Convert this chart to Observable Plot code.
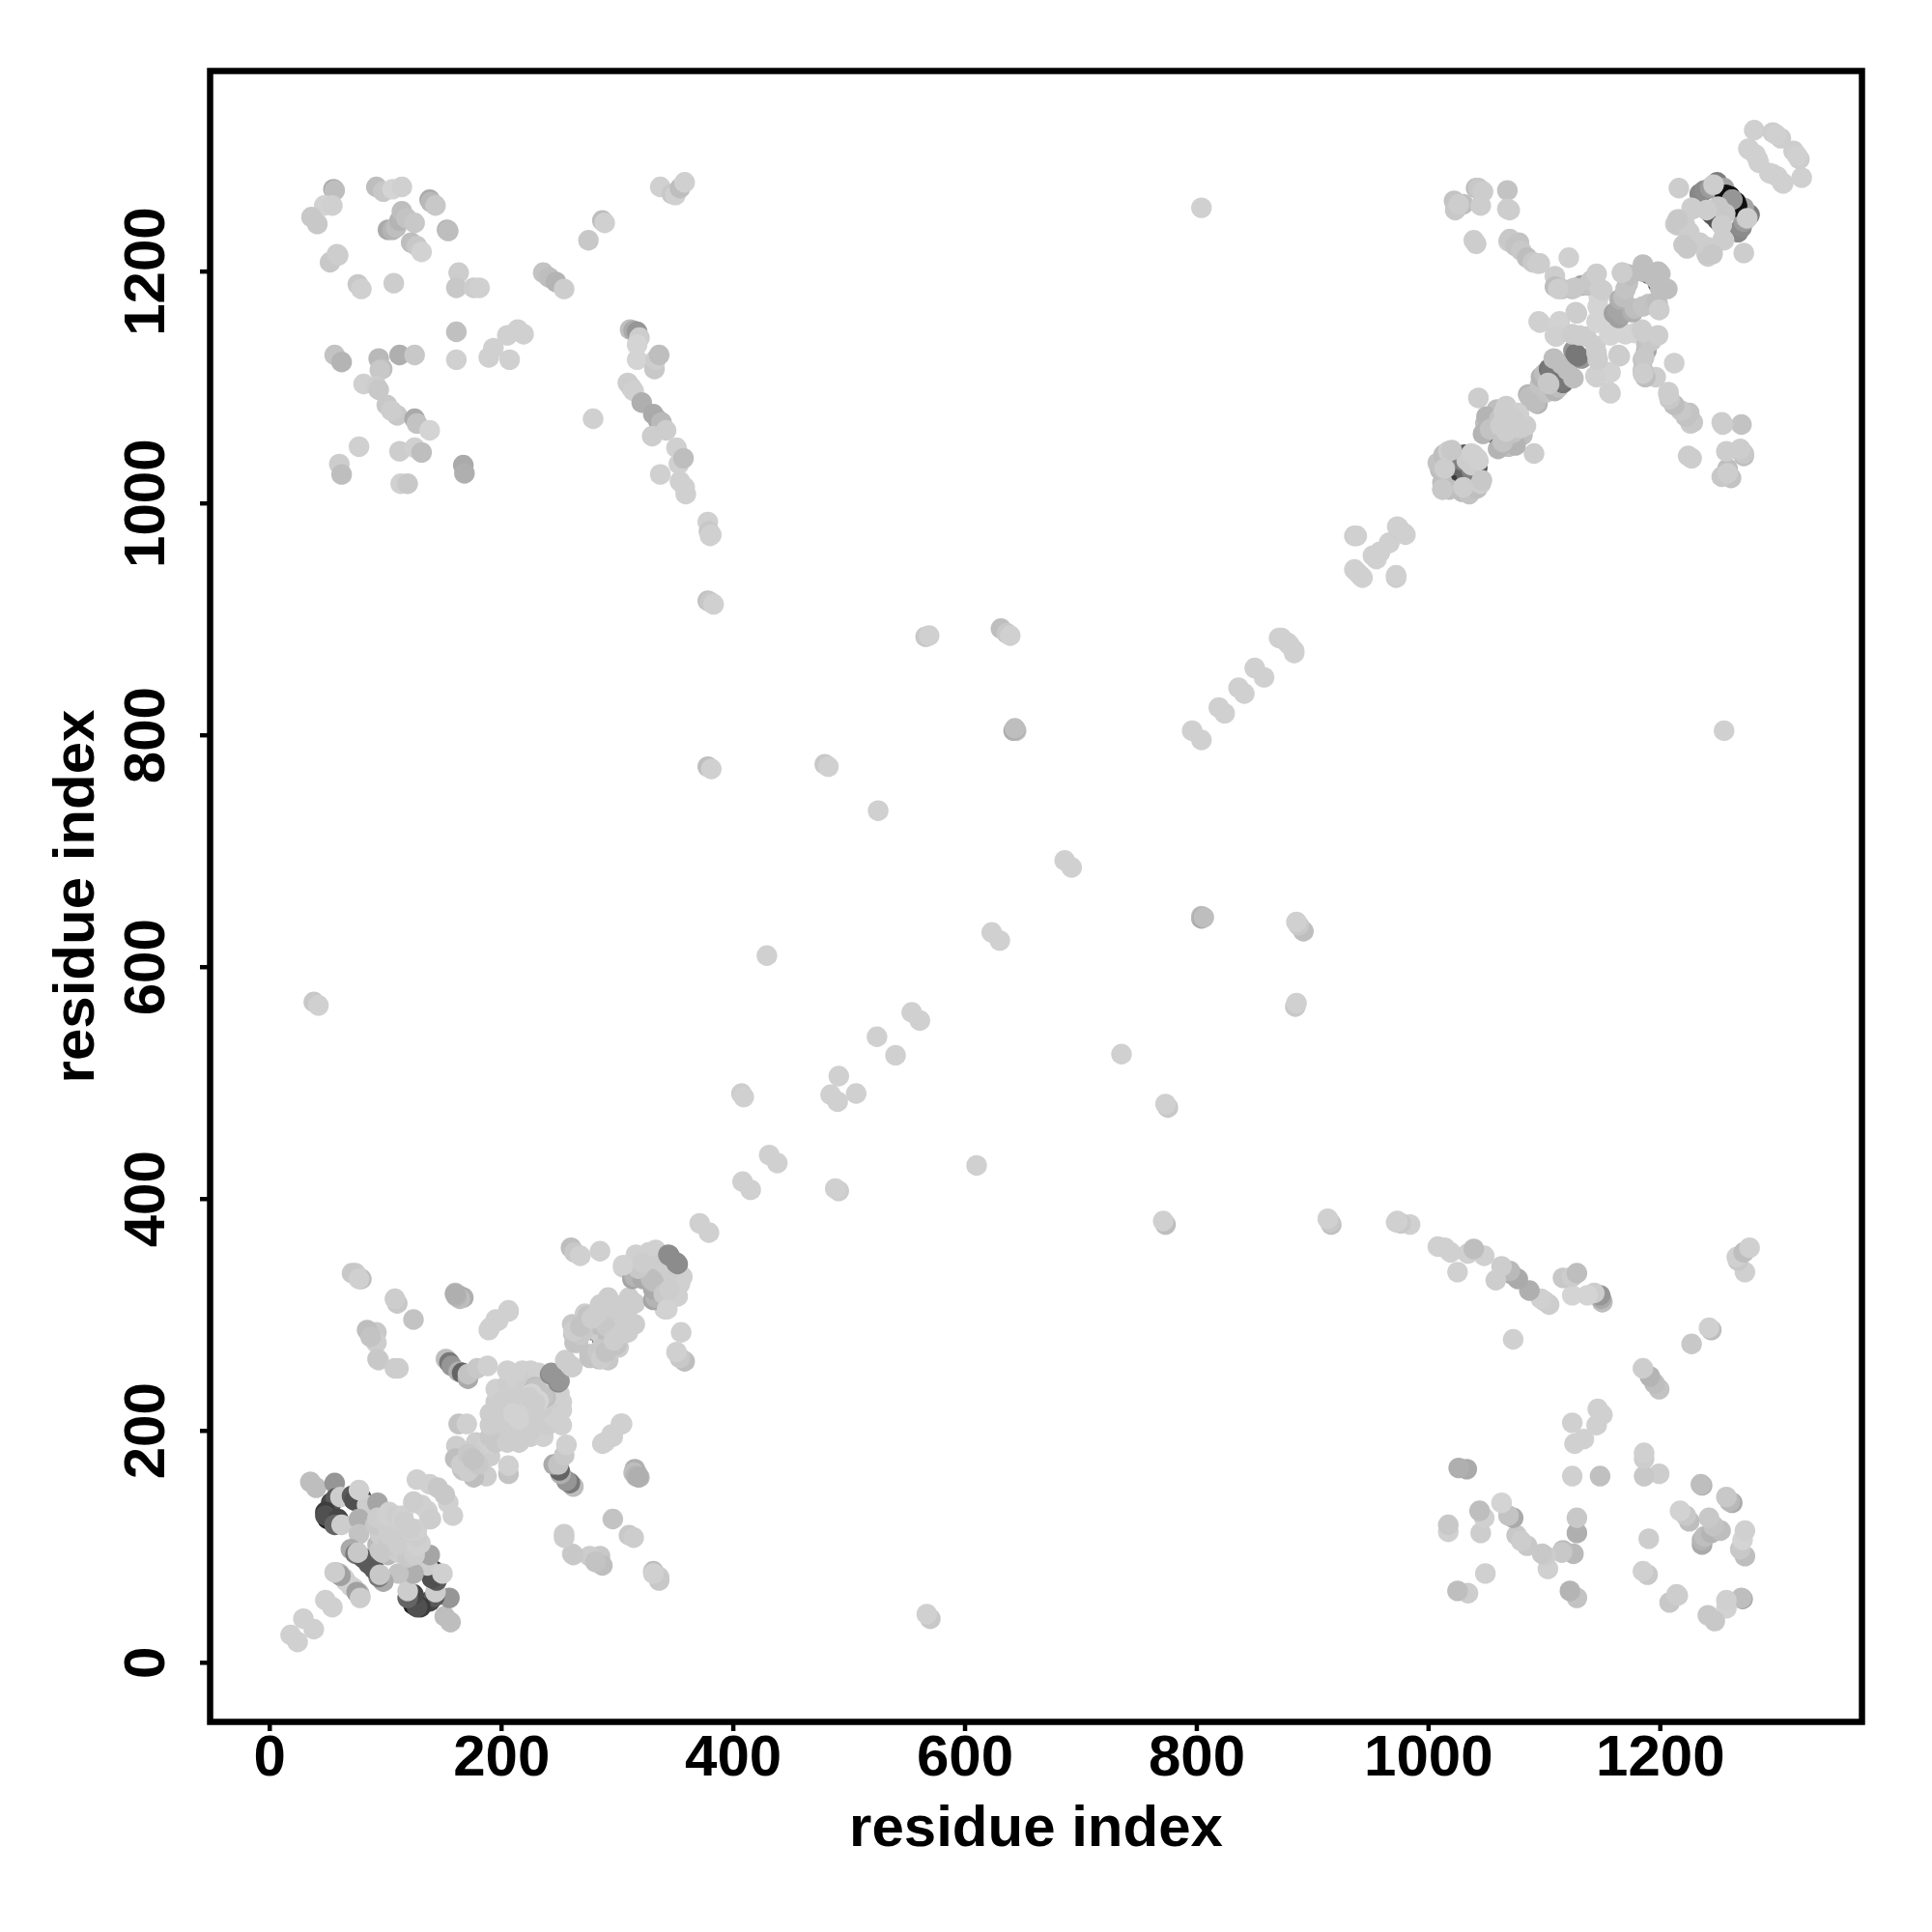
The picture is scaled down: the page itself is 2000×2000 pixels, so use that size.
<!DOCTYPE html>
<html>
<head>
<meta charset="utf-8">
<style>html,body{margin:0;padding:0;background:#fff}</style>
<script src="https://cdn.jsdelivr.net/npm/d3@7"></script>
<script src="https://cdn.jsdelivr.net/npm/@observablehq/plot@0.6"></script>
</head>
<body>
<script>
// contact rows: [residue i, residue j, gray level 0-255]; i <= j, the map is symmetric
const sparseContacts = [
[18,24,208],[29,38,208],[48,54,208],
[371,379,208],[408,415,208],[431,438,208],[407,491,205],[409,488,208],[484,490,208],[491,506,208],
[524,540,208],[554,561,208],[623,630,208],[686,692,208],[796,804,208],[819,824,208],[836,841,208],
[850,858,208],[871,884,208],[878,880,208],[873,884,208],[936,972,205],[938,972,208],[938,941,208],
[936,943,208],[952,955,208],[958,958,208],[966,966,208],[974,979,200],[973,980,208],
[378,916,192],[380,915,200],[383,913,208],[378,984,208],[379,976,200],[381,973,208],[380,972,208],
[566,885,200],[569,886,208],[631,892,190],[636,888,200],[639,886,208],[804,1255,208],[378,773,190],
[381,771,208],[479,775,200],[482,773,208],[525,735,208],[642,804,170],[644,804,190],[38,570,200],[42,567,208],
[429,610,208],[643,805,170],[643,806,190]
];
const upperLeftBlock = [
[55,1271,170],[56,1270,190],[47,1257,210],[54,1257,208],[36,1247,200],[41,1241,200],
[92,1273,190],[98,1269,200],[106,1271,212],[114,1273,208],
[138,1262,170],[139,1260,185],[143,1257,200],
[102,1236,170],[106,1236,180],[109,1238,190],[112,1244,180],[114,1252,190],[118,1246,195],[125,1242,200],
[122,1225,190],[127,1222,200],[131,1217,210],
[153,1236,180],[154,1235,190],[52,1208,200],[58,1215,205],[59,1214,205],
[76,1189,200],[79,1185,208],[107,1190,205],
[163,1199,205],[161,1186,200],[176,1186,205],[181,1186,208],
[236,1199,195],[241,1195,190],[247,1191,180],[254,1185,205],
[161,1148,192],[161,1124,208],[189,1126,208],[193,1134,208],[207,1124,208],[205,1145,208],[214,1150,208],[219,1146,208],
[56,1128,195],[62,1122,180],[94,1125,185],[97,1116,190],[95,1115,200],[81,1103,208],[92,1101,205],[94,1098,200],
[101,1085,200],[110,1076,200],[105,1080,205],[125,1073,170],[127,1069,195],[138,1063,212],
[112,1128,175],[125,1128,200],[279,1073,208],[77,1049,208],
[112,1045,205],[125,1048,208],[131,1044,190],
[60,1034,205],[62,1025,190],[167,1033,170],[168,1026,175],[113,1017,208],[119,1017,200]
];
const upperMiddleBlock = [
[337,1273,208],[347,1267,200],[350,1266,208],[354,1272,190],[358,1277,208],
[287,1244,190],[289,1242,208],[275,1227,200],
[311,1150,190],[314,1149,170],[317,1148,150],[319,1143,205],[317,1137,212],[317,1124,212],
[332,1116,200],[333,1124,205],[336,1128,190],
[309,1104,205],[312,1100,205],[314,1097,208],[321,1087,175],
[331,1077,170],[335,1072,170],[338,1070,185],[342,1063,205],[330,1058,205],
[351,1048,208],[353,1034,208],[357,1039,190],[337,1025,208],[354,1019,208],[358,1014,208],[359,1008,208]
];
const firstDomain = [
[35,156,190],[40,151,190],[56,155,150],
[53,138,70],[57,142,90],[48,130,60],[50,124,30],[48,127,80],[59,124,70],[56,119,100],[62,119,205],[61,143,205],
[71,144,90],[77,141,55],[79,142,60],[73,140,80],[84,136,205],[77,149,208],[93,138,165],[77,124,175],[77,111,195],
[70,98,170],[74,94,120],[81,90,90],[85,86,90],[76,95,200],[57,78,190],[60,77,185],[64,73,208],[66,70,208],[61,75,160],[56,78,205],
[93,102,185],[95,97,200],[95,111,205],[102,106,200],[106,109,205],[96,115,205],[91,119,200],[102,111,205],
[93,125,205],[99,126,208],[103,130,208],[95,124,205],[101,127,208],[109,127,205],[115,127,208],[114,122,208],[122,116,205],
[127,158,208],[138,154,208],[145,151,200],[124,138,208],[131,136,208],[124,139,205]
];
const secondDomain = [
[160,319,190],[163,317,180],[167,315,175],[189,287,208],[197,295,208],[206,304,208],
[152,262,190],[155,259,120],[157,256,150],[163,251,175],[166,250,100],[171,245,170],[171,249,195],[179,254,200],[188,256,208],
[163,206,195],[170,206,208],[161,187,205],[160,176,190],[166,167,195],[171,165,205],[178,190,205],[171,180,200],[189,190,208],[175,176,195],
[212,232,90],[220,226,110],[196,206,170],
[190,195,200],[190,205,205],[190,215,205],[195,225,205],[195,236,208],[200,210,205],[200,225,205],[205,240,205],[205,252,208],
[212,215,205],[212,228,205],[212,245,208],[218,252,208],[220,235,205],[225,252,208],[228,243,205],[232,250,208],
[226,232,205],[235,238,205],[238,228,205],[229,238,190],[236,230,195],[232,226,212],[202,206,205],[210,209,205],[225,225,210],[215,210,210],[224,229,205],
[242,249,135],[243,250,150],
[256,260,208],[255,261,205]
];
const thirdDomain = [
[260,358,190],[263,354,200],[268,351,208],[285,355,208],
[279,287,95],[288,289,110],[284,288,150],
[262,284,190],[263,276,195],[266,276,195],[261,292,200],[268,283,200],[270,293,200],[272,301,205],[274,299,195],[281,287,205],[282,292,190],[270,285,200],
[290,291,200],[285,309,205],[292,315,205],[296,304,205],[262,286,205],[268,290,195],[290,296,200],[300,308,205],[310,315,205],[296,306,205],[283,302,205],[278,297,205],
[305,341,208],[313,331,165],[315,333,180],[322,331,170],[316,352,208],[327,354,208],[335,354,208],[333,356,208],[333,342,205],[338,344,205],[345,351,135],[344,352,140],[329,331,190],[318,340,200],[305,343,210],[322,345,205]
];
const longRangeLower = [
[124,296,195],[110,310,200],[108,314,205],[79,331,190],[74,336,205],[71,336,200],[77,331,208],
[92,285,200],[92,276,205],[84,287,190],[87,281,195],[94,261,205],[93,262,200],[108,254,205],[111,254,205],
[190,289,208],[195,296,208],[206,303,208],[164,314,190],[161,316,180],[160,318,175]
];
const fourthDomain = [
[1017,1024,30],[1021,1021,60],[1024,1033,100],[1031,1042,90],[1029,1037,130],
[1010,1029,190],[1012,1018,190],[1008,1035,195],[1013,1042,190],[1017,1045,205],[1012,1012,200],
[1014,1030,205],[1033,1037,205],[1037,1043,208],[1039,1042,208],[1020,1046,200],
[1043,1091,205],
[1056,1061,70],[1058,1062,90],[1049,1069,190],[1047,1060,180],[1059,1081,190],[1050,1075,180],[1053,1064,195],[1061,1073,195],[1067,1084,205],[1077,1078,208],[1070,1068,200],[1065,1079,205],[1072,1074,205],[1062,1067,205]
];
const centralCross = [
[1086,1094,180],[1092,1087,190],[1096,1102,195],[1097,1109,180],[1100,1112,190],[1104,1116,115],[1106,1115,120],[1108,1125,190],[1115,1120,190],[1104,1103,200],
[1125,1132,150],[1127,1129,120],[1130,1145,205],[1127,1165,205],[1109,1145,208],[1113,1157,208],[1095,1157,208],
[1096,1156,208],[1113,1156,210],[1110,1144,208],[1124,1146,205],[1136,1144,205],[1128,1164,205],[1146,1170,212],[1145,1157,212],[1147,1178,212],[1150,1160,212],[1147,1168,212],[1146,1156,212],
[1109,1196,205],[1109,1187,190],[1115,1185,195],[1124,1185,195],[1132,1188,165],[1137,1188,195],[1140,1192,200],[1145,1198,205],[1148,1185,205],[1150,1184,205],[1126,1186,200],[1112,1185,205],[1121,1212,208],
[1160,1164,160],[1163,1167,165],[1165,1176,175],[1190,1198,90],[1168,1178,190],[1171,1198,205],[1185,1206,190],[1192,1198,205],[1195,1195,190],[1198,1200,190],[1172,1190,195],[1167,1199,205],[1170,1185,195],[1185,1200,190],[1197,1174,190],[1199,1167,205],
[1069,1226,205],[1070,1228,200],[1075,1222,195],[1078,1225,195],[1080,1218,200],[1085,1212,190],[1090,1208,200],[1094,1207,205],[1096,1207,205]
];
const upperRightBlock = [
[1022,1261,195],[1030,1258,190],[1041,1272,190],[1043,1272,200],[1047,1269,205],[1045,1257,205],[1068,1270,195],[1068,1254,205],[1070,1253,205],[1039,1227,205],
[1023,1253,200],[1026,1258,205],[1041,1224,205]
];
const lastDomain = [
[1234,1267,135],[1238,1270,140],[1243,1272,155],[1249,1277,125],[1252,1268,160],[1255,1272,165],[1246,1274,175],
[1243,1251,95],[1245,1249,85],[1256,1266,25],[1257,1266,15],[1260,1265,15],[1262,1262,150],[1246,1275,205],[1250,1256,200],
[1227,1255,208],[1213,1241,205],[1221,1241,205],[1215,1240,200],[1217,1245,205],[1225,1234,205],[1220,1223,200],[1228,1254,205],[1240,1253,205],[1215,1245,200],[1216,1272,205],
[1276,1306,208],[1284,1297,208],[1282,1301,208],[1285,1294,208],[1277,1305,208],[1281,1322,208],[1297,1320,205],[1304,1315,205],[1300,1318,208]
];
const contacts = [...sparseContacts,...upperLeftBlock,...upperMiddleBlock,...firstDomain,...secondDomain,...thirdDomain,...longRangeLower,...fourthDomain,...centralCross,...upperRightBlock,...lastDomain];
const mirrored = contacts.flatMap(([i,j,g]) => [{x:i,y:j,g},{x:j,y:i,g}]);
const tickValues = [0,200,400,600,800,1000,1200];
const axisFont = "Liberation Sans";
const chart = Plot.plot({
  width:2000,height:2000,
  marginLeft:217,marginRight:73,marginTop:73,marginBottom:218,
  style:{fontFamily:axisFont,fontWeight:"bold",background:"#fff",color:"#000"},
  x:{domain:[-51.5,1374]},
  y:{domain:[-51,1373]},
  color:{type:"linear",domain:[0,255],range:["#000","#fff"]},
  marks:[
    Plot.dot(mirrored,{x:"x",y:"y",r:10.7,fill:"g",stroke:"none"}),
    Plot.frame({stroke:"#000",strokeWidth:6.5}),
    Plot.axisX({ticks:tickValues,tickFormat:d=>String(d),tickSize:10,tickPadding:3,strokeWidth:4.5,fontSize:60,label:"residue index",labelAnchor:"center",labelArrow:"none",labelOffset:128}),
    Plot.axisY({ticks:tickValues,tickFormat:d=>String(d),tickSize:10,tickPadding:38,tickRotate:-90,strokeWidth:4.5,fontSize:60,label:"residue index",labelAnchor:"center",labelArrow:"none",labelOffset:163})
  ]
});
document.body.appendChild(chart);
</script>
</body>
</html>
